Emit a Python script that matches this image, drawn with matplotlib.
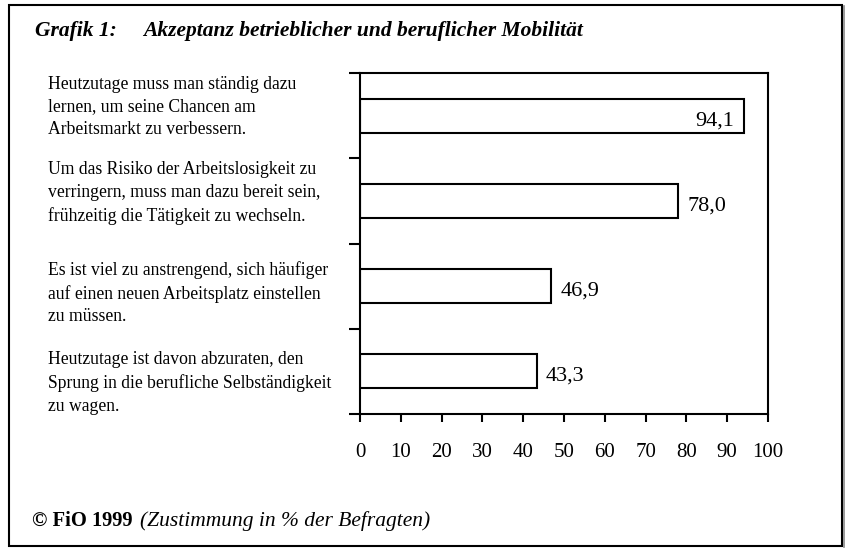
import matplotlib.pyplot as plt
from matplotlib.patches import Rectangle

# Data
statements = [
    'Heutzutage muss man ständig dazu\nlernen, um seine Chancen am\nArbeitsmarkt zu verbessern.',
    'Um das Risiko der Arbeitslosigkeit zu\nverringern, muss man dazu bereit sein,\nfrühzeitig die Tätigkeit zu wechseln.',
    'Es ist viel zu anstrengend, sich häufiger\nauf einen neuen Arbeitsplatz einstellen\nzu müssen.',
    'Heutzutage ist davon abzuraten, den\nSprung in die berufliche Selbständigkeit\nzu wagen.',
]
values = [94.1, 78.0, 46.9, 43.3]
value_labels = ['94,1', '78,0', '46,9', '43,3']
xticks = list(range(0, 101, 10))

plt.rcParams['font.family'] = ['Liberation Serif', 'DejaVu Serif']

W, H = 846, 550
fig = plt.figure(figsize=(W / 100, H / 100), dpi=100)

# Outer frame with a slight shadow on the right
fig.patches.append(Rectangle((9 / W, 1 - 546 / H), 833 / W, 541 / H,
                             transform=fig.transFigure, fill=False,
                             edgecolor='black', linewidth=1.5))
fig.lines.append(plt.Line2D([843.5 / W, 843.5 / W], [1 - 547 / H, 1 - 6 / H],
                            transform=fig.transFigure, color='#888888', lw=1.2))

ax = fig.add_axes([360 / W, 1 - 414 / H, 408 / W, 341 / H])
ypos = list(range(len(values)))
ax.barh(ypos, values, height=0.4, color='white', edgecolor='black', linewidth=1.5)
ax.set_xlim(0, 100)
ax.set_ylim(3.5, -0.5)

for y, v, lab in zip(ypos, values, value_labels):
    if v > 90:
        ax.text(v - 2.4, y + 0.06, lab, ha='right', va='center', fontsize=16)
    else:
        ax.text(v + 2.3, y + 0.06, lab, ha='left', va='center', fontsize=16)

ax.set_xticks(xticks)
ax.set_xticklabels([str(t) for t in xticks], fontsize=15)
ax.set_yticks([-0.5, 0.5, 1.5, 2.5, 3.5])
ax.set_yticklabels([])
ax.tick_params(axis='x', direction='out', length=6, width=1.5, pad=15)
ax.tick_params(axis='y', direction='out', length=8, width=1.5)
for s in ax.spines.values():
    s.set_linewidth(1.5)

# Statement labels at left
label_y = [107, 193, 293, 383]
for txt, py in zip(statements, label_y):
    fig.text(48 / W, 1 - py / H, txt, ha='left', va='center', fontsize=12.7,
             linespacing=1.42)

# Title
fig.text(35 / W, 1 - 31 / H, 'Grafik 1:', fontsize=15.5, fontweight='bold',
         style='italic', va='center')
fig.text(143 / W, 1 - 31 / H, 'Akzeptanz betrieblicher und beruflicher Mobilität',
         fontsize=15.5, fontweight='bold', style='italic', va='center')

# Footer
fig.text(32 / W, 1 - 521 / H, '© FiO 1999', fontsize=14.8, fontweight='bold', va='center')
fig.text(140 / W, 1 - 521 / H, '(Zustimmung in % der Befragten)', fontsize=15.5,
         style='italic', va='center')

fig.savefig('out.png', dpi=100)
